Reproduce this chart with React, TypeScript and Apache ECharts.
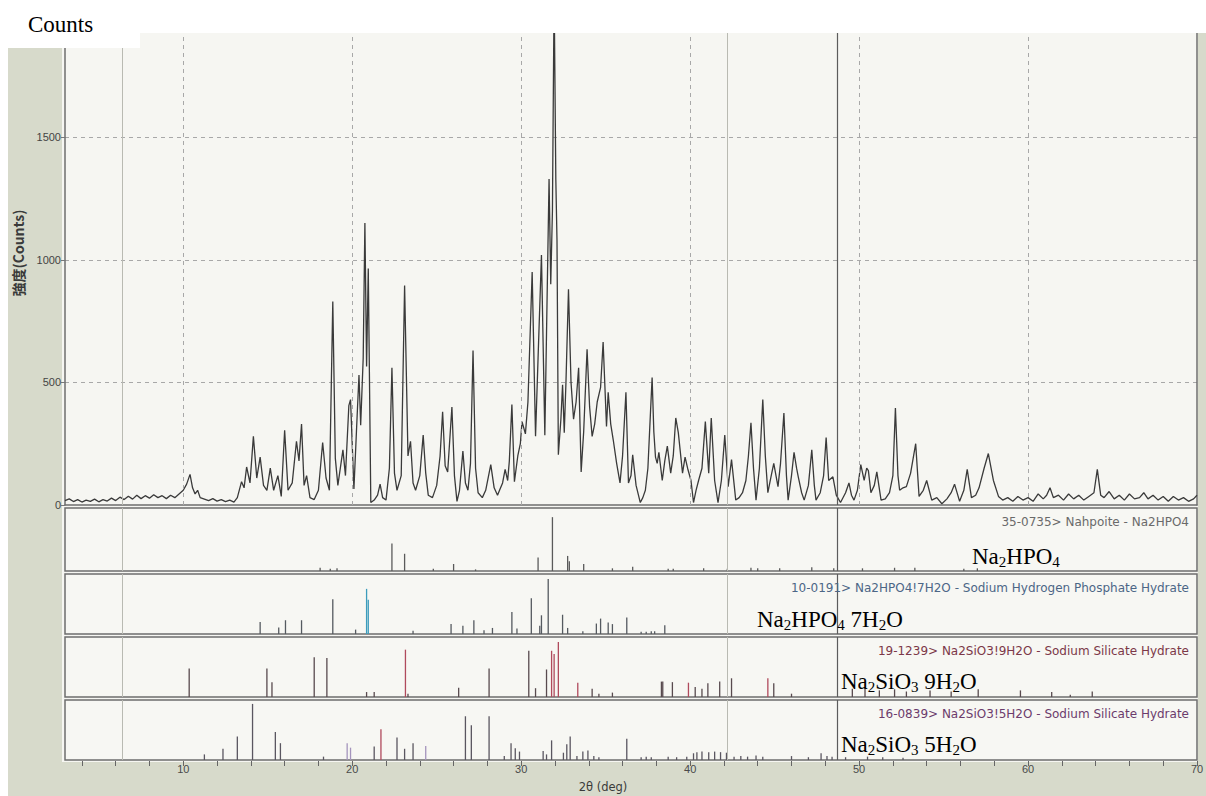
import React, { useEffect, useRef } from "react";
import * as echarts from "echarts";

// ---------- data ----------
const X_MIN = 3;
const X_MAX = 70;
const Y_MAX = 1925;
const yTickStep = 500;
const xGridDeg = [10, 20, 30, 40, 50, 60];
const xLabelStep = 10;
const xTickStep = 2;
const scanLinesLight = [6.4, 42.2];
const scanLinesDark = [48.7];

// measured XRD pattern: [2θ (deg), counts]
const pattern: [number, number][] = [
  [3.0, 18], [3.25, 25], [3.5, 14], [3.75, 22], [4.0, 12], [4.25, 20], [4.5, 15], [4.75, 24],
  [5.0, 13], [5.25, 22], [5.5, 16], [5.75, 28], [6.0, 18], [6.25, 32], [6.5, 22], [6.75, 36],
  [7.0, 24], [7.25, 40], [7.5, 26], [7.75, 38], [8.0, 28], [8.25, 42], [8.5, 30], [8.75, 38],
  [9.0, 26], [9.25, 40], [9.5, 30], [9.75, 45], [10.0, 60], [10.2, 85], [10.4, 125], [10.55, 70],
  [10.7, 45], [10.85, 60], [11.0, 30], [11.25, 24], [11.5, 18], [11.75, 26], [12.0, 16], [12.25, 22],
  [12.5, 14], [12.75, 20], [13.0, 12], [13.2, 30], [13.45, 95], [13.6, 70], [13.75, 155], [13.95, 90],
  [14.15, 280], [14.35, 110], [14.55, 195], [14.75, 80], [14.95, 60], [15.15, 150], [15.35, 60], [15.6, 120],
  [15.8, 35], [16.0, 305], [16.2, 60], [16.45, 90], [16.7, 260], [16.85, 180], [17.0, 330], [17.15, 80],
  [17.3, 120], [17.5, 30], [17.75, 22], [18.0, 60], [18.25, 255], [18.45, 110], [18.65, 60], [18.85, 830],
  [19.0, 190], [19.15, 80], [19.45, 225], [19.6, 120], [19.8, 405], [19.9, 430], [20.1, 65], [20.25, 300],
  [20.4, 530], [20.5, 325], [20.65, 600], [20.75, 1150], [20.85, 565], [20.95, 965], [21.1, 10], [21.3, 20],
  [21.5, 40], [21.65, 85], [21.8, 30], [22.0, 20], [22.2, 150], [22.35, 560], [22.5, 130], [22.65, 60],
  [22.9, 120], [23.1, 895], [23.3, 200], [23.45, 260], [23.6, 90], [23.75, 60], [24.0, 120], [24.2, 285],
  [24.35, 130], [24.5, 40], [24.75, 30], [25.0, 80], [25.2, 200], [25.35, 380], [25.5, 160], [25.65, 135],
  [25.9, 400], [26.05, 120], [26.2, 15], [26.35, 60], [26.55, 220], [26.7, 90], [26.85, 60], [27.0, 170],
  [27.15, 630], [27.3, 150], [27.45, 50], [27.7, 30], [27.9, 60], [28.2, 165], [28.4, 70], [28.6, 40],
  [28.75, 65], [28.9, 90], [29.05, 145], [29.2, 100], [29.3, 180], [29.45, 410], [29.6, 95], [29.8, 200],
  [29.95, 250], [30.05, 340], [30.25, 290], [30.4, 420], [30.65, 950], [30.85, 280], [31.0, 600], [31.2, 1020],
  [31.4, 285], [31.5, 700], [31.65, 1330], [31.75, 900], [31.85, 1200], [31.95, 2100], [32.05, 1330], [32.12, 1080],
  [32.2, 205], [32.35, 350], [32.45, 490], [32.55, 295], [32.65, 500], [32.8, 880], [32.95, 500], [33.1, 350],
  [33.25, 420], [33.4, 560], [33.55, 135], [33.7, 300], [33.9, 635], [34.05, 400], [34.2, 280], [34.35, 330],
  [34.5, 420], [34.7, 480], [34.85, 665], [35.05, 320], [35.15, 460], [35.3, 330], [35.45, 265], [35.65, 170],
  [35.85, 90], [36.0, 200], [36.2, 460], [36.35, 90], [36.5, 120], [36.6, 205], [36.8, 80], [37.05, 10],
  [37.2, 30], [37.35, 60], [37.5, 150], [37.6, 300], [37.75, 520], [37.85, 300], [37.95, 195], [38.05, 170],
  [38.15, 215], [38.35, 100], [38.5, 180], [38.65, 240], [38.85, 130], [39.0, 200], [39.15, 355], [39.3, 295],
  [39.55, 130], [39.7, 195], [39.85, 150], [40.05, 100], [40.2, 10], [40.35, 60], [40.5, 100], [40.7, 150],
  [40.9, 340], [41.1, 130], [41.25, 355], [41.45, 100], [41.65, 10], [41.85, 100], [42.05, 285], [42.25, 75],
  [42.45, 185], [42.7, 20], [42.9, 30], [43.1, 50], [43.3, 100], [43.45, 200], [43.6, 335], [43.75, 150],
  [43.9, 20], [44.1, 150], [44.3, 430], [44.45, 200], [44.6, 50], [44.8, 120], [44.95, 170], [45.2, 75],
  [45.35, 170], [45.55, 375], [45.7, 120], [45.8, 20], [46.0, 120], [46.15, 215], [46.3, 150], [46.4, 115],
  [46.6, 50], [46.75, 20], [47.0, 80], [47.2, 225], [47.35, 80], [47.45, 20], [47.7, 50], [47.9, 120],
  [48.05, 275], [48.2, 100], [48.45, 115], [48.65, 40], [48.9, 10], [49.2, 50], [49.4, 90], [49.55, 40],
  [49.7, 20], [49.9, 60], [50.1, 165], [50.3, 100], [50.45, 150], [50.55, 140], [50.7, 50], [50.9, 80],
  [51.05, 135], [51.3, 20], [51.55, 25], [51.8, 50], [52.0, 120], [52.15, 395], [52.3, 120], [52.4, 60],
  [52.6, 70], [52.8, 75], [53.05, 130], [53.35, 250], [53.55, 35], [53.8, 60], [54.0, 100], [54.3, 20],
  [54.6, 30], [54.9, 5], [55.2, 25], [55.45, 50], [55.65, 85], [55.95, 15], [56.2, 60], [56.4, 145],
  [56.65, 30], [56.9, 40], [57.1, 70], [57.4, 150], [57.65, 210], [57.95, 100], [58.25, 35], [58.5, 20],
  [58.8, 30], [59.1, 15], [59.4, 35], [59.7, 20], [60.0, 30], [60.3, 15], [60.6, 45], [60.9, 25],
  [61.1, 40], [61.3, 70], [61.5, 30], [61.8, 40], [62.1, 20], [62.4, 45], [62.7, 25], [63.0, 40],
  [63.3, 20], [63.6, 35], [63.9, 50], [64.1, 145], [64.3, 40], [64.5, 30], [64.8, 55], [65.1, 25],
  [65.4, 40], [65.7, 20], [66.0, 45], [66.3, 25], [66.6, 30], [66.85, 50], [67.1, 25], [67.4, 40],
  [67.7, 20], [68.0, 35], [68.3, 15], [68.6, 35], [68.9, 20], [69.2, 30], [69.5, 15], [69.8, 25], [70.0, 40],
];

// reference cards: [2θ, relative intensity]
const nahpoite: [number, number][] = [
  [18.1, 6], [18.7, 4], [19.1, 5], [22.35, 51], [23.1, 32], [24.8, 4], [26.0, 13], [27.3, 3],
  [31.0, 25], [31.85, 100], [32.75, 28], [32.85, 18], [33.7, 13], [35.4, 5], [36.6, 8], [38.7, 4],
  [39.0, 4], [40.8, 5], [42.2, 4], [43.6, 6], [44.0, 5], [45.3, 5], [47.2, 7], [48.5, 5],
  [50.2, 5], [52.1, 6], [53.3, 6], [56.2, 4], [57.0, 5],
];
const heptahydrate: [number, number][] = [
  [14.55, 22], [15.65, 12], [16.05, 25], [17.0, 25], [18.85, 63], [20.2, 8], [23.6, 6], [25.85, 18],
  [26.55, 15], [27.2, 25], [27.8, 7], [28.3, 11], [29.45, 40], [29.75, 10], [30.6, 65], [31.1, 15],
  [31.2, 34], [31.6, 100], [32.45, 35], [32.75, 11], [33.65, 5], [34.45, 19], [34.7, 28], [35.15, 21],
  [35.4, 18], [36.25, 30], [37.1, 4], [37.4, 4], [37.7, 5], [37.9, 5], [38.5, 16],
];
const heptahydrateBlue: [number, number][] = [[20.85, 82], [20.95, 62]];
const nonahydrate: [number, number][] = [
  [10.35, 52], [14.95, 52], [15.25, 27], [17.75, 72], [18.5, 71], [20.85, 9], [21.3, 9], [23.3, 6],
  [26.3, 17], [28.1, 52], [30.45, 84], [30.85, 16], [31.5, 50], [34.2, 15], [34.6, 6], [35.4, 8],
  [38.3, 28], [38.38, 28], [38.95, 27], [40.3, 18], [40.7, 15], [41.05, 25], [41.75, 28], [42.45, 34],
  [44.95, 25], [46.0, 6], [49.6, 15], [50.35, 18], [51.2, 12], [52.1, 14], [52.8, 10], [54.2, 12],
  [55.45, 10], [57.05, 14], [59.55, 12], [61.4, 9], [62.5, 4], [63.8, 10],
];
const nonahydrateRed: [number, number][] = [
  [23.15, 86], [31.8, 84], [31.95, 78], [32.2, 100], [33.35, 26], [39.9, 26], [44.6, 34],
];
const pentahydrate: [number, number][] = [
  [11.25, 10], [12.35, 20], [13.2, 42], [14.1, 100], [15.45, 50], [15.75, 30], [18.3, 6], [21.3, 24],
  [22.65, 40], [23.1, 20], [23.6, 30], [26.7, 78], [27.05, 62], [28.1, 78], [29.0, 7], [29.4, 30],
  [29.65, 21], [29.9, 15], [31.3, 16], [31.5, 10], [31.8, 35], [32.5, 13], [32.7, 28], [32.9, 42],
  [33.3, 7], [33.65, 15], [33.95, 17], [34.3, 7], [34.6, 5], [36.25, 38], [37.1, 5], [37.4, 6],
  [37.7, 5], [38.7, 6], [39.2, 5], [39.8, 6], [40.2, 12], [40.4, 14], [40.7, 15], [41.1, 14],
  [41.45, 15], [41.8, 14], [42.15, 13], [42.6, 6], [43.0, 7], [43.4, 6], [43.9, 8], [44.3, 6],
  [46.0, 7], [47.0, 5], [47.75, 12], [48.1, 7], [48.4, 6], [49.2, 5], [50.5, 6], [51.4, 5], [52.6, 4],
];
const pentahydrateRed: [number, number][] = [[21.7, 55]];
const pentahydrateViolet: [number, number][] = [[19.7, 30], [19.9, 22], [24.35, 25]];

const cardLabels = [
  "35-0735> Nahpoite - Na2HPO4",
  "10-0191> Na2HPO4!7H2O - Sodium Hydrogen Phosphate Hydrate",
  "19-1239> Na2SiO3!9H2O - Sodium Silicate Hydrate",
  "16-0839> Na2SiO3!5H2O - Sodium Silicate Hydrate",
];
const yAxisTitle = "強度(Counts)";
const xAxisTitle = "2θ (deg)";
const cornerTitle = "Counts";

// ---------- layout ----------
const W = 1206;
const H = 796;
const PLOT_L = 65;
const PLOT_R = 1197;
const PX_PER_DEG = (PLOT_R - PLOT_L) / (X_MAX - X_MIN);
const MAIN_TOP = 33;
const MAIN_BOTTOM = 505;
const panels = [
  { top: 508, bottom: 571, yMax: 117, color: "#6a6a6a" },
  { top: 574, bottom: 634, yMax: 109, color: "#4c6686" },
  { top: 637, bottom: 697, yMax: 109, color: "#7c3848" },
  { top: 700, bottom: 760, yMax: 107, color: "#6c3c6c" },
];

function stickSeries(idx: number, data: [number, number][], color: string, marks?: any) {
  return {
    type: "custom",
    xAxisIndex: idx,
    yAxisIndex: idx + 1,
    data,
    clip: true,
    silent: true,
    encode: { x: 0, y: 1 },
    renderItem: (params: any, api: any) => {
      const x = api.value(0);
      const top = api.coord([x, api.value(1)]);
      const base = api.coord([x, 0]);
      return {
        type: "line",
        shape: { x1: base[0], y1: base[1], x2: top[0], y2: top[1] },
        style: { stroke: color, lineWidth: 1.3 },
      };
    },
    markLine: marks,
  };
}

function scanMarks() {
  return {
    silent: true,
    symbol: ["none", "none"],
    label: { show: false },
    animation: false,
    data: [
      ...scanLinesLight.map((v) => ({ xAxis: v, lineStyle: { color: "#b9bab2", width: 1, type: "solid" } })),
      ...scanLinesDark.map((v) => ({ xAxis: v, lineStyle: { color: "#5c5c5c", width: 1.2, type: "solid" } })),
    ],
  };
}

const serifRich = {
  n: { fontFamily: "Liberation Serif", fontSize: 23, lineHeight: 24, verticalAlign: "top", color: "#000" },
  s: { fontFamily: "Liberation Serif", fontSize: 15, lineHeight: 12, verticalAlign: "bottom", color: "#000" },
};

function formula(x: number, y: number, text: string) {
  return {
    type: "text",
    x,
    y,
    z: 60,
    silent: true,
    style: { text, rich: serifRich, align: "left", verticalAlign: "top" },
  };
}

export default function App() {
  const ref = useRef<HTMLDivElement>(null);

  useEffect(() => {
    if (!ref.current) return;
    const chart = echarts.init(ref.current, null, { renderer: "svg", width: W, height: H });

    const grids: any[] = [
      { left: PLOT_L, width: PLOT_R - PLOT_L, top: MAIN_TOP, height: MAIN_BOTTOM - MAIN_TOP, show: true, backgroundColor: "#f6f6f2", borderWidth: 0, outerBoundsMode: "none", containLabel: false },
      ...panels.map((p) => ({
        left: PLOT_L, width: PLOT_R - PLOT_L, top: p.top, height: p.bottom - p.top,
        show: true, backgroundColor: "#f7f7f3", borderColor: "#6e6e6e", borderWidth: 1.5, outerBoundsMode: "none", containLabel: false,
      })),
      { left: PLOT_L + (4 - X_MIN) * PX_PER_DEG, width: PLOT_R - (PLOT_L + (4 - X_MIN) * PX_PER_DEG), top: 760, height: 1, outerBoundsMode: "none", containLabel: false },
    ];

    const xAxes: any[] = [
      {
        type: "value", gridIndex: 0, min: X_MIN, max: X_MAX,
        axisLine: { show: true, onZero: false, lineStyle: { color: "#6e6e6e", width: 1.5 } },
        axisTick: { show: false }, axisLabel: { show: false }, splitLine: { show: false },
      },
      ...panels.map((_, i) => ({
        type: "value", gridIndex: i + 1, min: X_MIN, max: X_MAX, show: false, splitLine: { show: false },
      })),
      {
        type: "value", gridIndex: 5, min: 4, max: X_MAX, interval: xTickStep, position: "top",
        axisLine: { show: false },
        axisTick: { show: true, inside: true, length: 5, lineStyle: { color: "#666", width: 1 } },
        axisLabel: {
          show: true, interval: 0, margin: -14, fontSize: 11, color: "#4a4a4a", fontFamily: "Liberation Sans",
          formatter: (v: number) => (v % xLabelStep === 0 ? String(v) : ""),
        },
        splitLine: { show: false },
      },
    ];

    const yAxes: any[] = [
      {
        type: "value", gridIndex: 0, min: 0, max: Y_MAX, interval: yTickStep,
        axisLine: { show: true, onZero: false, lineStyle: { color: "#6e6e6e", width: 1.5 } },
        axisTick: { show: true, length: 4, lineStyle: { color: "#777" } },
        axisLabel: {
          fontSize: 11, color: "#444", margin: 4, fontFamily: "Liberation Sans", showMaxLabel: false,
          formatter: (v: number) => (v % yTickStep === 0 ? String(v) : ""),
        },
        splitLine: { show: true, showMaxLine: false, showMinLine: false, lineStyle: { color: "#a8a8a8", type: [4, 4], width: 1 } },
      },
      {
        type: "value", gridIndex: 0, min: 0, max: 1, position: "right",
        axisLine: { show: true, onZero: false, lineStyle: { color: "#6e6e6e", width: 1.5 } },
        axisTick: { show: false }, axisLabel: { show: false }, splitLine: { show: false },
      },
      ...panels.map((p, i) => ({
        type: "value", gridIndex: i + 1, min: 0, max: p.yMax, show: false, splitLine: { show: false },
      })),
      { type: "value", gridIndex: 5, min: 0, max: 1, show: false, splitLine: { show: false } },
    ];

    // y axis indices: 0 main, 1 main right, 2..5 panels, 6 tick grid
    const panelSeries = (i: number, data: [number, number][], color: string, marks?: any) => {
      const s: any = stickSeries(i + 1, data, color, marks);
      s.yAxisIndex = i + 2;
      return s;
    };

    const series: any[] = [
      {
        type: "line",
        xAxisIndex: 0,
        yAxisIndex: 0,
        data: pattern,
        symbol: "none",
        showSymbol: false,
        clip: true,
        silent: true,
        lineStyle: { color: "#3a3a3a", width: 1.3 },
        markLine: {
          silent: true,
          symbol: ["none", "none"],
          label: { show: false },
          data: [
            ...xGridDeg.map((v) => ({ xAxis: v, lineStyle: { color: "#a8a8a8", width: 1, type: [4, 4] } })),
            ...scanMarks().data,
          ],
        },
      },
      panelSeries(0, nahpoite, "#5a5a5a", scanMarks()),
      panelSeries(1, heptahydrate, "#555a60", scanMarks()),
      panelSeries(1, heptahydrateBlue, "#3c9cbc"),
      panelSeries(2, nonahydrate, "#584a4e", scanMarks()),
      panelSeries(2, nonahydrateRed, "#b04a5c"),
      panelSeries(3, pentahydrate, "#5a5660", scanMarks()),
      panelSeries(3, pentahydrateRed, "#b04a5c"),
      panelSeries(3, pentahydrateViolet, "#a494bc"),
    ];

    const graphic: any[] = [
      { type: "rect", z: -100, silent: true, shape: { x: 0, y: 0, width: W, height: H }, style: { fill: "#ffffff" } },
      { type: "rect", z: -90, silent: true, shape: { x: 8, y: MAIN_TOP, width: W - 8, height: H - MAIN_TOP }, style: { fill: "#d7dacb" } },
      { type: "rect", z: -80, silent: true, shape: { x: 62, y: MAIN_TOP, width: PLOT_R - 62 + 1, height: 762 - MAIN_TOP }, style: { fill: "#f6f6f2" } },
      { type: "rect", z: 50, silent: true, shape: { x: 8, y: 0, width: 132, height: 48 }, style: { fill: "#ffffff" } },
      { type: "rect", z: 49, silent: true, shape: { x: 0, y: 0, width: W, height: MAIN_TOP }, style: { fill: "#ffffff" } },
      {
        type: "text", z: 60, x: 28, y: 24, silent: true,
        style: { text: cornerTitle, fontFamily: "Liberation Serif", fontSize: 23, fill: "#000", align: "left", verticalAlign: "middle" },
      },
      {
        type: "text", z: 60, x: 18, y: 253, rotation: Math.PI / 2, silent: true,
        style: { text: yAxisTitle, fontFamily: "Noto Sans CJK JP", fontSize: 14, fontWeight: "bold", fill: "#3a3a3a", align: "center", verticalAlign: "middle" },
      },
      {
        type: "text", z: 60, x: 603, y: 787, silent: true,
        style: { text: xAxisTitle, fontFamily: "DejaVu Sans", fontSize: 11.5, fill: "#3a3a3a", align: "center", verticalAlign: "middle" },
      },
      ...panels.map((p, i) => ({
        type: "text", z: 60, x: 1189, y: p.top + 14, silent: true,
        style: { text: cardLabels[i], fontFamily: "DejaVu Sans", fontSize: 12, fill: p.color, align: "right", verticalAlign: "middle" },
      })),
      formula(972, 545, "{n|Na}{s|2}{n|HPO}{s|4}"),
      formula(757, 608, "{n|Na}{s|2}{n|HPO}{s|4}{n| 7H}{s|2}{n|O}"),
      formula(841, 670, "{n|Na}{s|2}{n|SiO}{s|3}{n| 9H}{s|2}{n|O}"),
      formula(841, 733, "{n|Na}{s|2}{n|SiO}{s|3}{n| 5H}{s|2}{n|O}"),
    ];

    chart.setOption({
      animation: false,
      backgroundColor: "#ffffff",
      grid: grids,
      xAxis: xAxes,
      yAxis: yAxes,
      series,
      graphic,
    });

    return () => chart.dispose();
  }, []);

  return <div ref={ref} style={{ position: "fixed", left: 0, top: 0, width: W, height: H }} />;
}
